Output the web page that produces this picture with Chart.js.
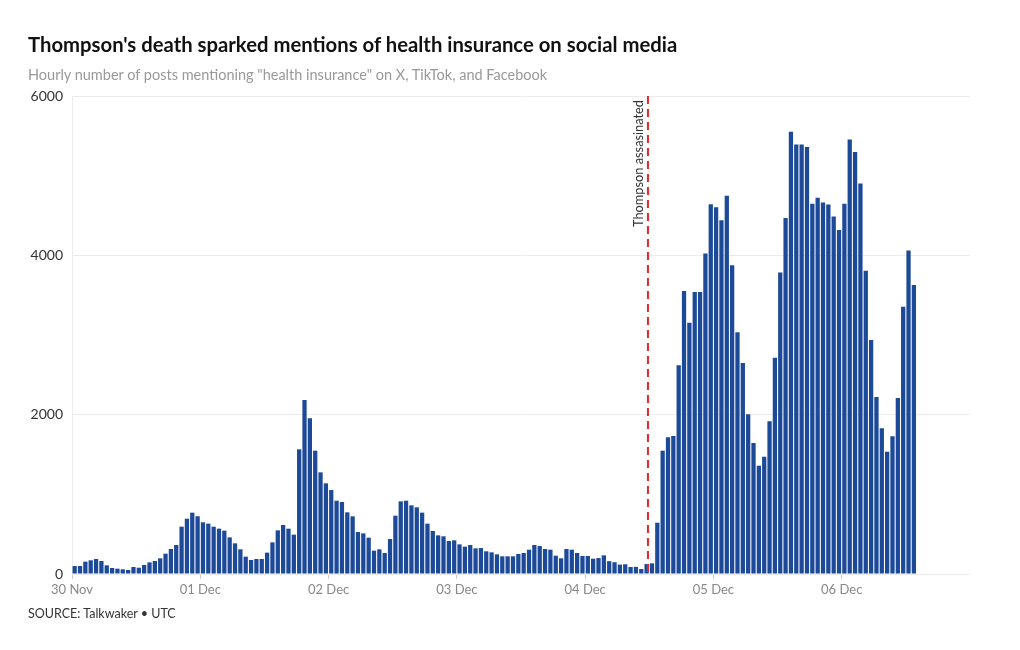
<!DOCTYPE html>
<html>
<head>
<meta charset="utf-8">
<script src="https://cdn.jsdelivr.net/npm/chart.js@4"></script>
<style>
  body { margin: 0; background: #fff; }
  #wrap { position: relative; width: 1020px; height: 650px; font-family: Lato, "Open Sans", sans-serif; }
  canvas { position: absolute; left: 0; top: 0; }
  .title { position: absolute; left: 28px; top: 31px; font-size: 20.3px; line-height: 26px; font-weight: 700; color: #111; white-space: nowrap; }
  .subtitle { position: absolute; left: 28px; top: 65px; font-size: 14.5px; line-height: 20px; color: #999; white-space: nowrap; }
  .source { position: absolute; left: 28px; top: 604px; font-size: 12.5px; line-height: 20px; color: #333; white-space: nowrap; }
</style>
</head>
<body>
<div id="wrap">
  <canvas id="myChart" width="1020" height="650"></canvas>
  <div class="title">Thompson's death sparked mentions of health insurance on social media</div>
  <div class="subtitle">Hourly number of posts mentioning "health insurance" on X, TikTok, and Facebook</div>
  <div class="source">SOURCE: Talkwaker • UTC</div>
</div>
<script>
// hourly counts from 30 Nov 00:00 UTC
const hourlyPosts = [
  100, 100, 155, 172, 188, 163, 109, 75, 67, 59, 50, 88, 79, 113, 146, 163, 197, 255, 314, 364, 594, 694, 770, 725,
  649, 632, 594, 569, 544, 460, 385, 310, 218, 176, 188, 188, 268, 397, 548, 615, 569, 494, 1565, 2184, 1954, 1548, 1276, 1138,
  1054, 920, 904, 774, 724, 527, 510, 456, 293, 310, 264, 439, 732, 912, 920, 862, 837, 770, 632, 540, 485, 473, 414, 423,
  372, 343, 364, 322, 326, 285, 272, 247, 222, 222, 222, 251, 264, 305, 364, 351, 314, 305, 230, 197, 314, 305, 264, 226,
  226, 192, 200, 234, 161, 148, 118, 122, 88, 90, 62, 125, 134, 644, 1548, 1715, 1732, 2619, 3552, 3154, 3539, 3539, 4024, 4640,
  4602, 4439, 4748, 3874, 3033, 2648, 2004, 1644, 1359, 1472, 1916, 2715, 3786, 4468, 5551, 5392, 5392, 5359, 4648, 4723, 4664, 4639,
  4489, 4317, 4648, 5455, 5296, 4903, 3807, 2937, 2221, 1828, 1535, 1728, 2209, 3355, 4062, 3627
];
const tickLabels = ['30 Nov', '01 Dec', '02 Dec', '03 Dec', '04 Dec', '05 Dec', '06 Dec'];
const hoursPerDay = 24;
const totalHours = 7 * hoursPerDay;
const assassinationHour = 107.75; // 04 Dec 11:45 UTC
const eventLabel = 'Thompson assasinated';

const eventLine = {
  id: 'eventLine',
  afterDatasetsDraw(chart) {
    const { ctx, chartArea, scales } = chart;
    const x = scales.x.getPixelForValue(assassinationHour);
    ctx.save();
    ctx.strokeStyle = '#e8262b';
    ctx.lineWidth = 2;
    ctx.setLineDash([8, 5]);
    ctx.beginPath();
    ctx.moveTo(x, chartArea.top);
    ctx.lineTo(x, chartArea.bottom);
    ctx.stroke();
    ctx.translate(x - 5, chartArea.top + 4);
    ctx.rotate(-Math.PI / 2);
    ctx.font = '12.8px Lato';
    ctx.fillStyle = '#333';
    ctx.textAlign = 'right';
    ctx.textBaseline = 'alphabetic';
    ctx.fillText(eventLabel, 0, 0);
    ctx.restore();
  }
};

const config = {
  type: 'bar',
  data: {
    datasets: [{
      data: hourlyPosts.map((v, i) => ({ x: i + 0.5, y: v })),
      backgroundColor: '#1c4a98',
      borderWidth: 0,
      barPercentage: 0.8,
      categoryPercentage: 1
    }]
  },
  options: {
    responsive: false,
    animation: false,
    layout: { padding: { left: 28, top: 96, right: 50, bottom: 46 } },
    plugins: {
      legend: { display: false },
      tooltip: { enabled: false }
    },
    scales: {
      x: {
        type: 'linear',
        min: 0,
        max: totalHours,
        offset: false,
        afterBuildTicks: (scale) => {
          scale.ticks = tickLabels.map((_, k) => ({ value: k * hoursPerDay }));
        },
        afterFit: (scale) => { scale.height = 30; },
        grid: { offset: false, drawOnChartArea: false, drawTicks: true, tickLength: 5, color: '#ccc' },
        border: { display: false },
        ticks: {
          autoSkip: false,
          maxRotation: 0,
          padding: 3,
          color: '#888',
          font: { family: 'Lato', size: 13 },
          callback: (value) => tickLabels[value / hoursPerDay]
        }
      },
      y: {
        min: 0,
        max: 6000,
        afterFit: (scale) => { scale.width = 44; },
        grid: { color: '#ececec', drawTicks: false },
        border: { display: true, color: '#ececec' },
        ticks: {
          stepSize: 2000,
          padding: 9,
          color: '#333',
          font: { family: 'Lato', size: 14 },
          callback: (value) => String(value)
        }
      }
    }
  },
  plugins: [eventLine]
};

new Chart(document.getElementById('myChart'), config);
</script>
</body>
</html>
